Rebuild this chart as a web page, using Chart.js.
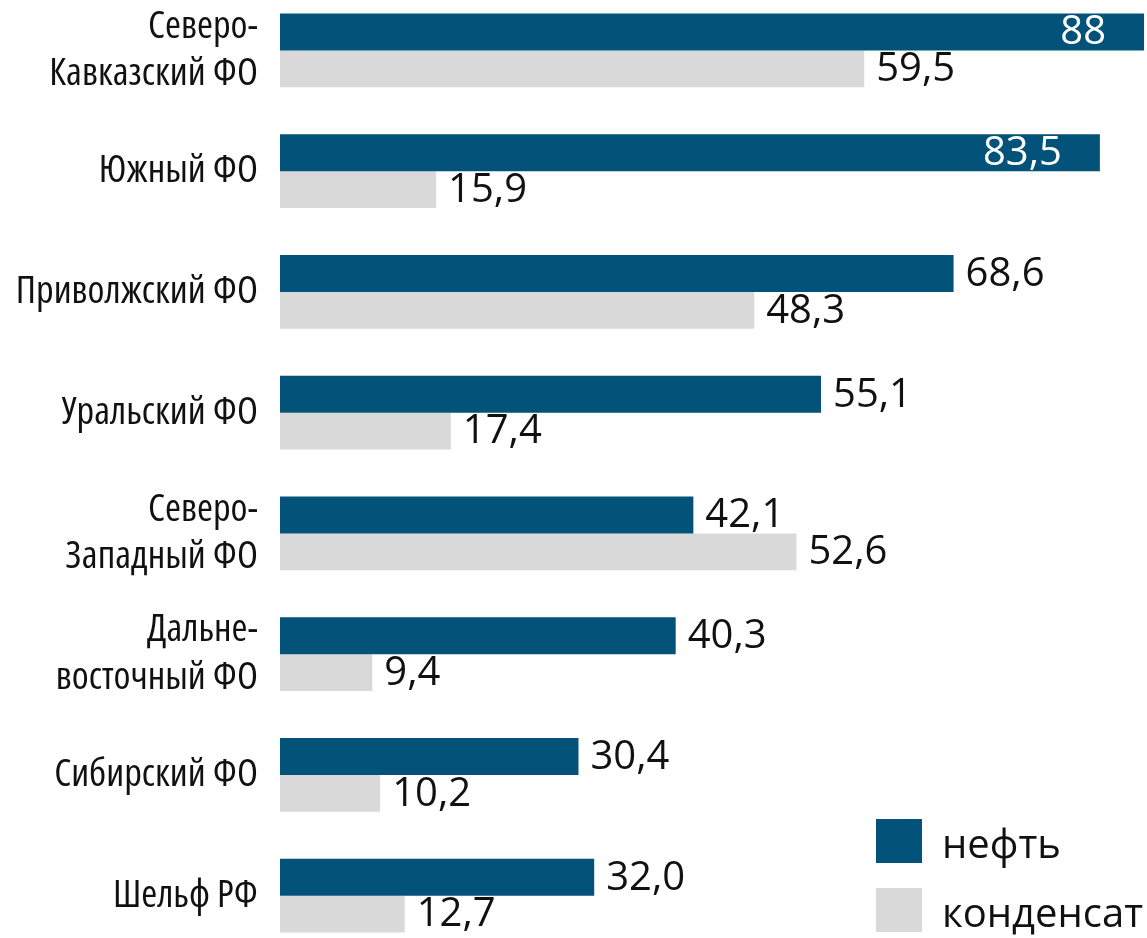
<!DOCTYPE html>
<html>
<head>
<meta charset="utf-8">
<script src="https://cdn.jsdelivr.net/npm/chart.js@4.4.1/dist/chart.umd.min.js"></script>
<style>
    html, body { margin: 0; padding: 0; background: #fff; overflow: hidden; width: 1147px; height: 938px; }
    /* plot bands run a little past the top and bottom edges, as in the source */
    #wrap { width: 1147px; height: 966px; position: absolute; left: 0; top: -10px; }
</style>
</head>
<body>
<div id="wrap"><canvas id="oilChart"></canvas></div>
<script>
var regions = [
    ['Северо-', 'Кавказский ФО'],
    'Южный ФО',
    'Приволжский ФО',
    'Уральский ФО',
    ['Северо-', 'Западный ФО'],
    ['Дальне-', 'восточный ФО'],
    'Сибирский ФО',
    'Шельф РФ'
];
var seriesNames = ['нефть', 'конденсат'];
var oilValues = [88, 83.5, 68.6, 55.1, 42.1, 40.3, 30.4, 32.0];
var condensateValues = [59.5, 15.9, 48.3, 17.4, 52.6, 9.4, 10.2, 12.7];
var oilText = ['88', '83,5', '68,6', '55,1', '42,1', '40,3', '30,4', '32,0'];
var condensateText = ['59,5', '15,9', '48,3', '17,4', '52,6', '9,4', '10,2', '12,7'];

var DARK = '#03527a';
var GREY = '#d9d9d9';
var valueFont = "'Open Sans', 'Noto Sans', sans-serif";

// numbers next to / inside the bars
var valueLabels = {
    id: 'valueLabels',
    afterDatasetsDraw: function (chart) {
        var ctx = chart.ctx;
        ctx.save();
        ctx.font = '40px ' + valueFont;
        ctx.textBaseline = 'middle';
        chart.data.datasets.forEach(function (ds, di) {
            var meta = chart.getDatasetMeta(di);
            meta.data.forEach(function (bar, i) {
                var text = ds.valueText[i];
                if (bar.x > chart.chartArea.right - 100) {
                    ctx.fillStyle = '#ffffff';
                    ctx.textAlign = 'right';
                    ctx.fillText(text, bar.x - 38, bar.y + 1);
                } else {
                    ctx.fillStyle = '#111111';
                    ctx.textAlign = 'left';
                    ctx.fillText(text, bar.x + 12, bar.y + 1);
                }
            });
        });
        ctx.restore();
    }
};

// legend in the lower right corner
var cornerLegend = {
    id: 'cornerLegend',
    afterDraw: function (chart) {
        var ctx = chart.ctx;
        var x = chart.chartArea.right - 271;
        var tops = [829, 898]; // canvas is shifted up by 10px
        ctx.save();
        ctx.font = '40px ' + valueFont;
        ctx.textAlign = 'left';
        ctx.textBaseline = 'alphabetic';
        chart.data.datasets.forEach(function (ds, di) {
            ctx.fillStyle = ds.backgroundColor;
            ctx.fillRect(x, tops[di], 46, 44);
            ctx.fillStyle = '#111111';
            ctx.fillText(ds.label, x + 66, tops[di] + 39);
        });
        ctx.restore();
    }
};

var ctx = document.getElementById('oilChart').getContext('2d');
var oilChart = new Chart(ctx, {
    type: 'bar',
    data: {
        labels: regions,
        datasets: [{
            label: seriesNames[0],
            data: oilValues,
            valueText: oilText,
            backgroundColor: DARK,
            borderWidth: 0
        }, {
            label: seriesNames[1],
            data: condensateValues,
            valueText: condensateText,
            backgroundColor: GREY,
            borderWidth: 0
        }]
    },
    options: {
        indexAxis: 'y',
        responsive: true,
        maintainAspectRatio: false,
        animation: false,
        datasets: {
            bar: { categoryPercentage: 0.61, barPercentage: 1.0 }
        },
        layout: { padding: 0 },
        scales: {
            x: { display: false, min: 0, max: 88.3 },
            y: {
                grid: { display: false, drawTicks: false },
                border: { display: false },
                afterFit: function (scale) {
                    scale.width = 280;
                    scale.paddingTop = 0;
                    scale.paddingBottom = 0;
                },
                ticks: {
                    padding: 22,
                    color: '#111111',
                    // 'condensed' goes into the font shorthand as font-stretch
                    font: { family: "'Open Sans', sans-serif", weight: 'condensed', size: 38.5, lineHeight: 1.23 }
                }
            }
        },
        plugins: {
            legend: { display: false },
            tooltip: { enabled: false }
        }
    },
    plugins: [valueLabels, cornerLegend]
});
</script>
</body>
</html>
